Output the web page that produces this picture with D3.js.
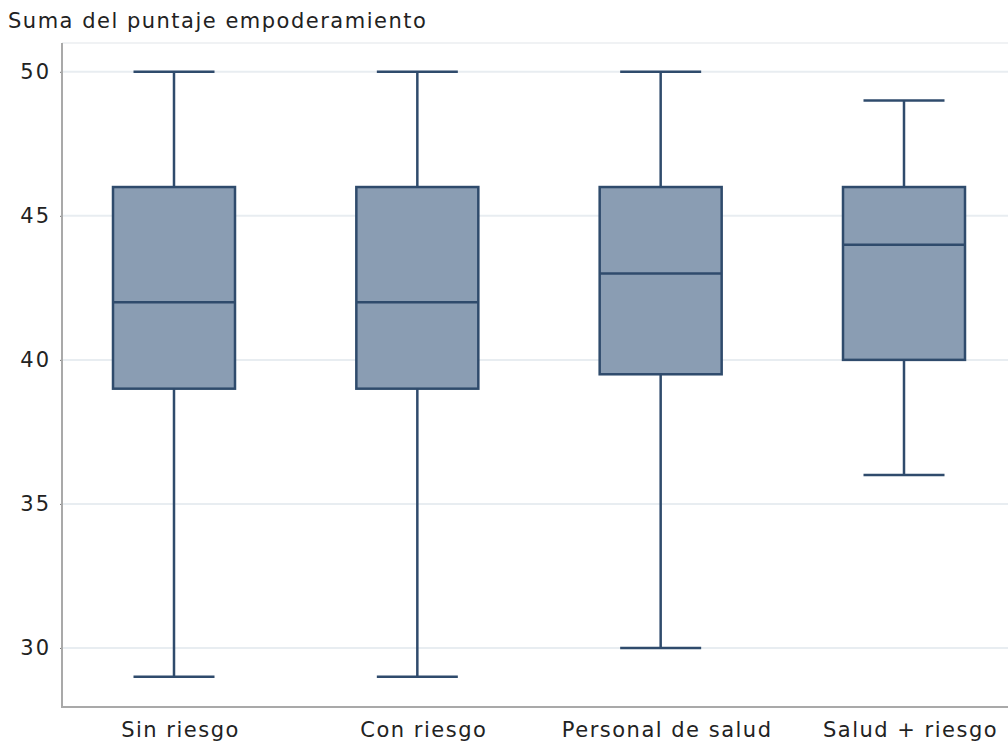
<!DOCTYPE html>
<html>
<head>
<meta charset="utf-8">
<script src="https://cdn.jsdelivr.net/npm/d3@7"></script>
<style>
  body { margin: 0; background: #fff; }
  svg text { font-family: "DejaVu Sans", Verdana, sans-serif; fill: #222; }
</style>
</head>
<body>
<svg id="chart"></svg>
<script>
'use strict';

var categories = ['Sin riesgo', 'Con riesgo', 'Personal de salud', 'Salud + riesgo'];
var mins    = [29, 29, 30, 36];
var q1s     = [39, 39, 39.5, 40];
var medians = [42, 42, 43, 44];
var q3s     = [46, 46, 46, 46];
var maxs    = [50, 50, 50, 49];
var yTicks  = [30, 35, 40, 45, 50];
var yTitle  = 'Suma del puntaje empoderamiento';

var width = 1008, height = 742;
var plot = {left: 62, right: 1008, top: 43, bottom: 707};
var boxWidth = 122, capWidth = 81;
var fill = '#8a9db3', stroke = '#2f4b6c';

var svg = d3.select('#chart').attr('width', width).attr('height', height);

var yScale = d3.scaleLinear()
  .domain([27.95, 51])
  .range([plot.bottom, plot.top]);

var xScale = d3.scalePoint()
  .domain(categories)
  .range([174, 904]);

// gridlines
svg.append('g').selectAll('line').data(yTicks).enter()
  .append('line')
  .attr('x1', plot.left).attr('x2', plot.right)
  .attr('y1', function (d) { return yScale(d); })
  .attr('y2', function (d) { return yScale(d); })
  .attr('stroke', '#e8edf1').attr('stroke-width', 2);

// top border of plot area
svg.append('line')
  .attr('x1', plot.left).attr('x2', plot.right)
  .attr('y1', plot.top).attr('y2', plot.top)
  .attr('stroke', '#f0f2f4').attr('stroke-width', 2);

// y axis
var yAxis = d3.axisLeft(yScale).tickValues(yTicks).tickSize(2).tickPadding(9);
var gy = svg.append('g')
  .attr('transform', 'translate(' + plot.left + ',0)')
  .call(yAxis);
gy.select('.domain').remove();
gy.selectAll('.tick line').attr('stroke', '#777');
gy.selectAll('.tick text')
  .style('font-size', '21px')
  .style('letter-spacing', '2px')
  .attr('fill', '#222');
svg.append('line')
  .attr('x1', plot.left).attr('x2', plot.left)
  .attr('y1', plot.top).attr('y2', plot.bottom)
  .attr('stroke', '#a9a9a9').attr('stroke-width', 2);

// x axis
var xAxis = d3.axisBottom(xScale).tickSize(0).tickPadding(15);
var gx = svg.append('g')
  .attr('transform', 'translate(0,' + plot.bottom + ')')
  .call(xAxis);
gx.select('.domain').remove();
gx.selectAll('.tick text')
  .attr('dx', 6)
  .style('font-size', '21px')
  .style('letter-spacing', '1.5px')
  .attr('fill', '#222');
svg.append('line')
  .attr('x1', plot.left - 1).attr('x2', plot.right)
  .attr('y1', plot.bottom).attr('y2', plot.bottom)
  .attr('stroke', '#a9a9a9').attr('stroke-width', 2);

// boxes
svg.append('g').selectAll('g.box').data(categories).enter()
  .append('g')
  .classed('box', true)
  .each(function (c, i) {
    var g = d3.select(this);
    var cx = xScale(c);

    g.append('line')
      .attr('x1', cx).attr('x2', cx)
      .attr('y1', yScale(maxs[i])).attr('y2', yScale(q3s[i]))
      .attr('stroke', stroke).attr('stroke-width', 2.5);
    g.append('line')
      .attr('x1', cx).attr('x2', cx)
      .attr('y1', yScale(q1s[i])).attr('y2', yScale(mins[i]))
      .attr('stroke', stroke).attr('stroke-width', 2.5);

    [mins[i], maxs[i]].forEach(function (v) {
      g.append('line')
        .attr('x1', cx - capWidth / 2).attr('x2', cx + capWidth / 2)
        .attr('y1', yScale(v)).attr('y2', yScale(v))
        .attr('stroke', stroke).attr('stroke-width', 2.5);
    });

    g.append('rect')
      .attr('x', cx - boxWidth / 2)
      .attr('y', yScale(q3s[i]))
      .attr('width', boxWidth)
      .attr('height', yScale(q1s[i]) - yScale(q3s[i]))
      .attr('fill', fill)
      .attr('stroke', stroke).attr('stroke-width', 2.5);

    g.append('line')
      .attr('x1', cx - boxWidth / 2).attr('x2', cx + boxWidth / 2)
      .attr('y1', yScale(medians[i])).attr('y2', yScale(medians[i]))
      .attr('stroke', stroke).attr('stroke-width', 2.5);
  });

// axis title
svg.append('text')
  .attr('x', 8).attr('y', 28)
  .style('font-size', '21px')
  .style('letter-spacing', '1.5px')
  .text(yTitle);
</script>
</body>
</html>
